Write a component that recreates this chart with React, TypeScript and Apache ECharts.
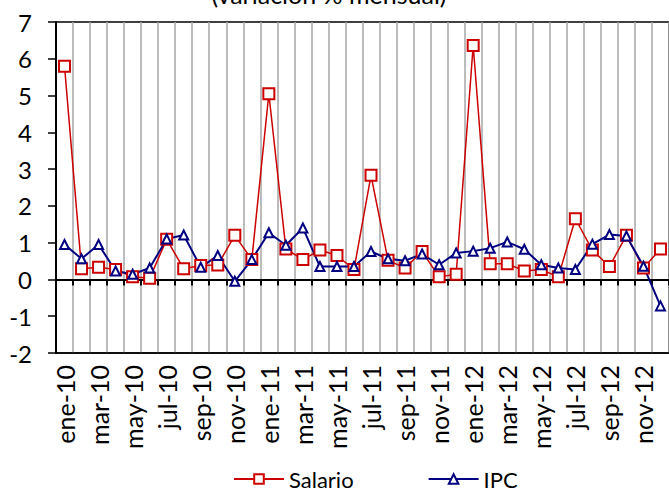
import React, { useEffect, useRef } from "react";
import * as echarts from "echarts";

const months = [
  "ene-10", "feb-10", "mar-10", "abr-10", "may-10", "jun-10", "jul-10", "ago-10", "sep-10", "oct-10", "nov-10", "dic-10",
  "ene-11", "feb-11", "mar-11", "abr-11", "may-11", "jun-11", "jul-11", "ago-11", "sep-11", "oct-11", "nov-11", "dic-11",
  "ene-12", "feb-12", "mar-12", "abr-12", "may-12", "jun-12", "jul-12", "ago-12", "sep-12", "oct-12", "nov-12", "dic-12",
];

const salario = [
  5.8, 0.29, 0.33, 0.27, 0.07, 0.03, 1.09, 0.29, 0.38, 0.39, 1.2, 0.54,
  5.05, 0.83, 0.54, 0.8, 0.65, 0.27, 2.83, 0.52, 0.31, 0.76, 0.07, 0.14,
  6.36, 0.43, 0.43, 0.23, 0.27, 0.07, 1.65, 0.8, 0.35, 1.2, 0.31, 0.83,
];

const ipc = [
  0.95, 0.56, 0.95, 0.23, 0.14, 0.31, 1.1, 1.21, 0.33, 0.65, -0.05, 0.54,
  1.27, 0.93, 1.4, 0.35, 0.35, 0.35, 0.76, 0.56, 0.51, 0.69, 0.4, 0.72,
  0.77, 0.85, 1.02, 0.82, 0.4, 0.31, 0.27, 0.96, 1.22, 1.18, 0.36, -0.72,
];

const titleText = "(variación % mensual)";
const FONT = "Lato";

export default function App() {
  const ref = useRef<HTMLDivElement>(null);
  useEffect(() => {
    if (!ref.current) return;
    const chart = echarts.init(ref.current, undefined, { renderer: "svg" });
    chart.setOption({
      animation: false,
      backgroundColor: "#fff",
      textStyle: { fontFamily: FONT },
      graphic: [
        {
          type: "text",
          x: 329,
          y: -6,
          style: {
            text: titleText,
            fontSize: 25,
            fontFamily: FONT,
            fill: "#000",
            textAlign: "center",
            textVerticalAlign: "middle",
          },
        },
      ],
      legend: {
        left: 228,
        top: 463,
        itemWidth: 50,
        itemHeight: 12,
        itemGap: 74,
        textStyle: { fontSize: 22, fontFamily: FONT, color: "#000" },
        data: ["Salario", "IPC"],
      },
      grid: {
        left: 56,
        top: 22,
        width: 614,
        height: 331,
        show: true,
        borderColor: "#000",
        borderWidth: 1.5,
      },
      xAxis: [
        {
          type: "category",
          data: months,
          boundaryGap: true,
          position: "bottom",
          axisLine: { onZero: false, lineStyle: { color: "#000", width: 1.5 } },
          axisTick: { show: false },
          axisLabel: {
            interval: 1,
            rotate: 90,
            margin: 12,
            fontSize: 25,
            fontFamily: FONT,
            color: "#000",
          },
          splitLine: { show: false },
        },
        {
          type: "category",
          data: months,
          boundaryGap: true,
          position: "bottom",
          axisLine: { onZero: true, lineStyle: { color: "#000", width: 2 } },
          axisTick: { show: true, inside: false, length: 6, interval: 0, lineStyle: { color: "#000", width: 2 } },
          axisLabel: { show: false },
          splitLine: { show: true, interval: 0, lineStyle: { color: "#A6A6A6", width: 1.5 } },
        },
      ],
      yAxis: {
        type: "value",
        min: -2,
        max: 7,
        interval: 1,
        axisLine: { show: true, lineStyle: { color: "#000", width: 2 } },
        axisTick: { show: true, inside: false, length: 8, lineStyle: { color: "#000", width: 1.5 } },
        axisLabel: { fontSize: 24, fontFamily: FONT, color: "#000", margin: 24 },
        splitLine: { show: false },
      },
      series: [
        {
          name: "Salario",
          type: "line",
          xAxisIndex: 1,
          data: salario,
          symbol: "emptyRect",
          symbolSize: 11,
          lineStyle: { color: "#CC0000", width: 1.5 },
          itemStyle: { color: "#CC0000", borderWidth: 1.5 },
        },
        {
          name: "IPC",
          type: "line",
          xAxisIndex: 1,
          data: ipc,
          symbol: "emptyTriangle",
          symbolSize: 9,
          lineStyle: { color: "#000080", width: 2 },
          itemStyle: { color: "#000080", borderWidth: 1.5 },
        },
      ],
    });
    return () => chart.dispose();
  }, []);
  return (
    <div
      ref={ref}
      style={{ position: "fixed", left: 0, top: 0, width: 669, height: 491 }}
    />
  );
}
